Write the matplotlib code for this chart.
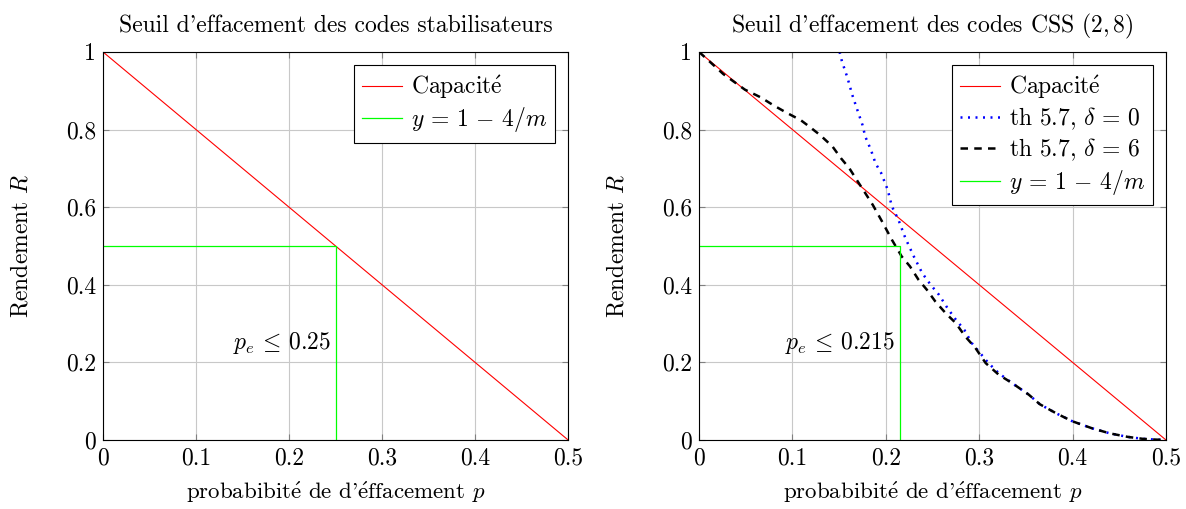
import numpy as np
import matplotlib
matplotlib.use("Agg")
import matplotlib.pyplot as plt

plt.rcParams['font.family'] = ['cmr10', 'DejaVu Serif']
plt.rcParams['mathtext.fontset'] = 'cm'
plt.rcParams['axes.formatter.use_mathtext'] = True
plt.rcParams['font.size'] = 16

E_AIGU = r'$\acute{\rm e}$'

# capacite de l'effacement : R = 1 - 2p
cap_p = [0.0, 0.5]
cap_R = [1.0, 0.0]

seuil_stab = 0.25
seuil_css = 0.215
R_seuil = 0.5

# th 5.7, delta = 0
th0_p = [0.1505, 0.153, 0.159, 0.164, 0.170, 0.175, 0.178, 0.184, 0.189, 0.195, 0.202,
         0.2065, 0.2136, 0.221, 0.230, 0.239, 0.248, 0.257, 0.266, 0.275, 0.284, 0.292,
         0.301, 0.310, 0.321, 0.335, 0.353, 0.365, 0.383, 0.400, 0.421, 0.440, 0.459,
         0.475, 0.489, 0.500]
th0_R = [1.000, 0.976, 0.933, 0.890, 0.847, 0.812, 0.782, 0.748, 0.713, 0.688, 0.645,
         0.602, 0.567, 0.520, 0.473, 0.430, 0.400, 0.374, 0.340, 0.310, 0.284, 0.250,
         0.224, 0.198, 0.172, 0.147, 0.117, 0.092, 0.068, 0.048, 0.030, 0.017, 0.008,
         0.003, 0.001, 0.000]

# th 5.7, delta = 6
th6_p = [0.000, 0.026, 0.049, 0.066, 0.080, 0.094, 0.109, 0.119, 0.130, 0.143, 0.152,
         0.161, 0.170, 0.177, 0.186, 0.196, 0.2065, 0.217, 0.226, 0.235, 0.244, 0.253,
         0.264, 0.275, 0.285, 0.296, 0.307, 0.321, 0.335, 0.353, 0.365, 0.383, 0.400,
         0.421, 0.440, 0.459, 0.475, 0.489, 0.500]
th6_R = [1.000, 0.943, 0.903, 0.883, 0.862, 0.843, 0.824, 0.806, 0.785, 0.756, 0.726,
         0.700, 0.666, 0.640, 0.606, 0.563, 0.516, 0.473, 0.447, 0.413, 0.387, 0.357,
         0.327, 0.301, 0.267, 0.237, 0.198, 0.168, 0.147, 0.117, 0.092, 0.068, 0.048,
         0.030, 0.017, 0.008, 0.003, 0.001, 0.000]

xticks = [0, 0.1, 0.2, 0.3, 0.4, 0.5]
yticks = [0, 0.2, 0.4, 0.6, 0.8, 1]
xticklabels = ['0', '0.1', '0.2', '0.3', '0.4', '0.5']
yticklabels = ['0', '0.2', '0.4', '0.6', '0.8', '1']
label_cap = 'Capacit' + E_AIGU
label_green = r'$y\,=\,1\,-\,4/m$'


def style_axes(ax):
    ax.set_xlim(0, 0.5)
    ax.set_ylim(0, 1)
    ax.set_xticks(xticks)
    ax.set_yticks(yticks)
    ax.set_xticklabels(xticklabels)
    ax.set_yticklabels(yticklabels)
    ax.grid(True, color='#c8c8c8', linewidth=0.8)
    ax.tick_params(direction='in', top=True, right=True, length=4,
                   color='#808080', labelsize=17, pad=5)
    for s in ax.spines.values():
        s.set_linewidth(0.8)
    ax.set_xlabel('probabibit' + E_AIGU + " de d'" + E_AIGU + 'ffacement $p$',
                  fontsize=16.5, labelpad=8)
    ax.set_ylabel(r'Rendement $R$', fontsize=17, labelpad=24)


def add_legend(ax):
    leg = ax.legend(loc='upper right', fontsize=17, frameon=True, fancybox=False,
                    edgecolor='black', framealpha=1, handlelength=1.7,
                    handletextpad=0.35, borderpad=0.35, borderaxespad=0.55,
                    labelspacing=0.2)
    leg.get_frame().set_linewidth(0.8)


fig = plt.figure(figsize=(11.86, 5.09), dpi=100)
ax1 = fig.add_axes([0.0868, 0.1356, 0.3922, 0.7624])
ax2 = fig.add_axes([0.5894, 0.1356, 0.3937, 0.7624])

# gauche
ax1.plot(cap_p, cap_R, color='red', lw=0.8, label=label_cap)
ax1.plot([0, seuil_stab, seuil_stab], [R_seuil, R_seuil, 0], color='#00ff00', lw=0.9,
         label=label_green)
ax1.text(seuil_stab - 0.005, 0.25, r'$p_e\,\leq\,0.25$', ha='right', va='center', fontsize=17)
style_axes(ax1)
ax1.set_title("Seuil d'effacement des codes stabilisateurs", fontsize=17, pad=14)
add_legend(ax1)

# droite
ax2.plot(cap_p, cap_R, color='red', lw=0.8, label=label_cap)
ax2.plot(th0_p, th0_R, color='blue', lw=1.8, ls=(0, (0.8, 2.2)),
         label=r'th 5.7, $\delta\,=\,0$')
ax2.plot(th6_p, th6_R, color='black', lw=1.8, ls=(0, (3, 2.5)),
         label=r'th 5.7, $\delta\,=\,6$')
ax2.plot([0, seuil_css, seuil_css], [R_seuil, R_seuil, 0], color='#00ff00', lw=0.9,
         label=label_green)
ax2.text(seuil_css - 0.005, 0.25, r'$p_e\,\leq\,0.215$', ha='right', va='center', fontsize=17)
style_axes(ax2)
ax2.set_title(r"Seuil d'effacement des codes CSS $(2,8)$", fontsize=17, pad=14)
add_legend(ax2)

fig.savefig('out.png', dpi=100)
